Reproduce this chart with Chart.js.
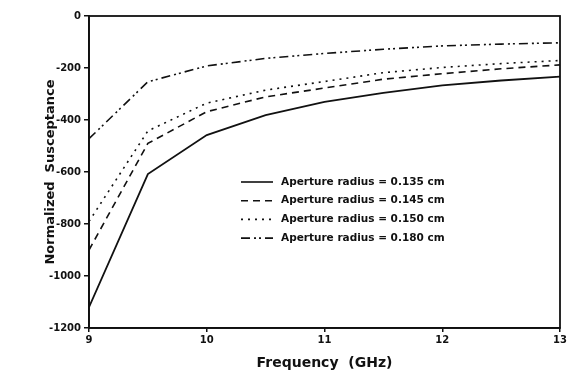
<!DOCTYPE html>
<html>
<head>
<meta charset="utf-8">
<script src="https://cdn.jsdelivr.net/npm/chart.js@4/dist/chart.umd.min.js"></script>
<style>
  html, body { margin: 0; padding: 0; background: #fff; }
  #wrap { width: 569px; height: 379px; }
</style>
</head>
<body>
<div id="wrap"><canvas id="chart"></canvas></div>
<script>
const freqGHz = [9, 9.5, 10, 10.5, 11, 11.5, 12, 12.5, 13];
const r0135 = [-1120, -608, -458, -381, -330, -296, -267, -248, -233];
const r0145 = [-900, -490, -368, -311, -277, -243, -222, -203, -188];
const r0150 = [-790, -442, -335, -285, -252, -218, -198, -183, -171];
const r0180 = [-472, -253, -192, -163, -144, -128, -115, -108, -103];
const seriesLabels = [
  "Aperture radius = 0.135 cm",
  "Aperture radius = 0.145 cm",
  "Aperture radius = 0.150 cm",
  "Aperture radius = 0.180 cm"
];
const xTicks = [9, 10, 11, 12, 13];
const yTicks = [0, -200, -400, -600, -800, -1000, -1200];

const FONT = "'DejaVu Sans', sans-serif";
const INK = "#111";

function pts(ys) {
  return freqGHz.map((x, i) => ({ x, y: ys[i] }));
}

const dashes = [[], [7, 5], [2, 5], [9, 4, 2, 3, 2, 4]];
const data = [r0135, r0145, r0150, r0180];

const datasets = data.map((ys, i) => ({
  label: seriesLabels[i],
  data: pts(ys),
  borderColor: INK,
  borderWidth: i === 0 ? 1.8 : 1.6,
  borderDash: dashes[i],
  pointRadius: 0,
  tension: 0,
  fill: false
}));

// frame + legend drawn on the canvas
const framePlugin = {
  id: "frame",
  afterDraw(chart) {
    const { ctx, chartArea: a } = chart;
    ctx.save();
    ctx.strokeStyle = INK;
    ctx.lineWidth = 1.8;
    ctx.strokeRect(a.left, a.top, a.right - a.left, a.bottom - a.top);

    // legend
    const lx = 241, ly = 182, step = 18.7;
    ctx.font = "bold 10.5px " + FONT;
    ctx.fillStyle = INK;
    ctx.textBaseline = "middle";
    chart.data.datasets.forEach((ds, i) => {
      const y = ly + i * step;
      ctx.beginPath();
      ctx.setLineDash(ds.borderDash);
      ctx.lineWidth = 1.6;
      ctx.moveTo(lx, y);
      ctx.lineTo(lx + 32, y);
      ctx.stroke();
      ctx.setLineDash([]);
      ctx.fillText(ds.label, lx + 40, y);
    });
    ctx.restore();
  }
};

new Chart(document.getElementById("chart"), {
  type: "line",
  data: { datasets },
  options: {
    responsive: true,
    maintainAspectRatio: false,
    animation: false,
    layout: { padding: { top: 16, right: 9, left: 37, bottom: 0 } },
    plugins: { legend: { display: false }, tooltip: { enabled: false } },
    scales: {
      x: {
        type: "linear",
        min: 9, max: 13,
        afterBuildTicks(s) { s.ticks = xTicks.map(v => ({ value: v })); },
        afterFit(s) { s.height = 51; },
        grid: { drawOnChartArea: false, tickLength: 4, color: INK, lineWidth: 1.5 },
        border: { color: INK, width: 1.8 },
        ticks: {
          color: INK, font: { family: FONT, size: 10, weight: "bold" }, padding: 2, maxRotation: 0,
          callback: v => String(v)
        },
        title: {
          display: true,
          text: "Frequency  (GHz)",
          color: INK,
          font: { family: FONT, size: 14, weight: "bold" },
          padding: { top: 0, bottom: 7 }
        }
      },
      y: {
        min: -1200, max: 0,
        afterBuildTicks(s) { s.ticks = yTicks.map(v => ({ value: v })); },
        afterFit(s) { s.width = 52; },
        grid: { drawOnChartArea: false, tickLength: 5, color: INK, lineWidth: 1.5 },
        border: { color: INK, width: 1.8 },
        ticks: {
          color: INK, font: { family: FONT, size: 10, weight: "bold" }, padding: 3,
          callback: v => String(v)
        },
        title: {
          display: true,
          text: "Normalized  Susceptance",
          color: INK,
          font: { family: FONT, size: 13, weight: "bold" },
          padding: { top: 6, bottom: 0 }
        }
      }
    }
  },
  plugins: [framePlugin]
});
</script>
</body>
</html>
